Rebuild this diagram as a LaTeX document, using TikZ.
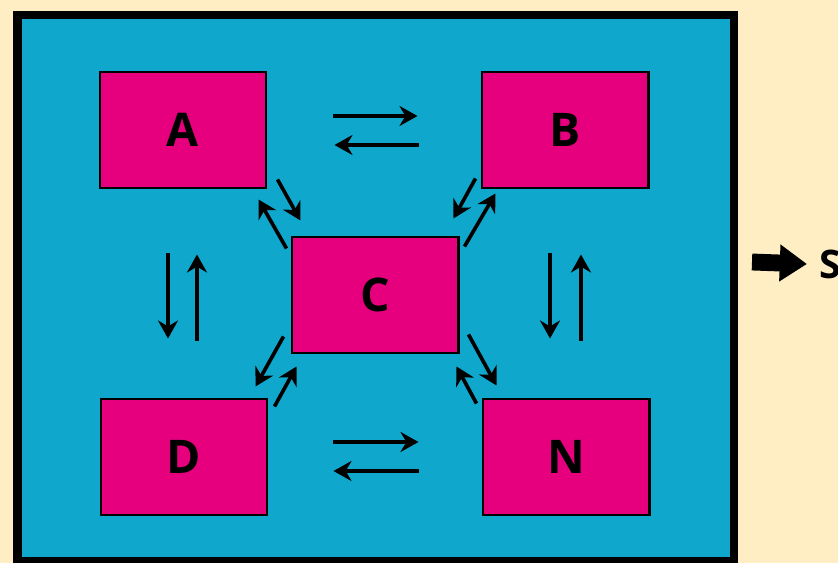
\documentclass[tikz,border=0pt]{standalone}
\usepackage{fontspec}
\setsansfont{Open Sans}
\usetikzlibrary{arrows.meta}

\definecolor{creambg}{RGB}{255,238,196}
\definecolor{poolblue}{RGB}{16,167,204}
\definecolor{boxpink}{RGB}{230,0,126}

\begin{document}
\begin{tikzpicture}[x=0.025cm, y=-0.025cm, >={Stealth[length=0.45cm, width=0.5cm]}, font=\sffamily\bfseries,
  compartment/.style={draw=black, fill=boxpink, line width=2.1pt, minimum width=4.15cm, minimum height=2.9cm,
    inner sep=0pt, font=\sffamily\bfseries\fontsize{33}{33}\selectfont},
  flow/.style={->, line width=2.6pt, black}]

  % ---------- Background and Frame ----------
  \fill[creambg] (0,0) rectangle (838,563);
  \useasboundingbox (0,0) rectangle (838,563);
  \filldraw[fill=poolblue, draw=black, line width=0.2cm] (17.5,15) rectangle (734,561);

  % ---------- Compartments ----------
  \node[compartment] (A) at (183,130) {A};
  \node[compartment] (B) at (565,130) {B};
  \node[compartment] (C) at (375,295) {C};
  \node[compartment] (D) at (184,457) {D};
  \node[compartment] (N) at (566,457) {N};

  % ---------- Horizontal exchanges ----------
  \draw[flow] ([shift={(66,-14)}]A.east) -- ([shift={(-63,-14)}]B.west);
  \draw[flow] ([shift={(-62,15)}]B.west) -- ([shift={(67,15)}]A.east);
  \draw[flow] ([shift={(65,-15)}]D.east) -- ([shift={(-63,-15)}]N.west);
  \draw[flow] ([shift={(-63,14)}]N.west) -- ([shift={(65,14)}]D.east);

  % ---------- Vertical exchanges ----------
  \draw[flow] ([shift={(-15,64)}]A.south) -- ([shift={(-16,-59)}]D.north);
  \draw[flow] ([shift={(13,-57)}]D.north) -- ([shift={(14,65)}]A.south);
  \draw[flow] ([shift={(-15,64)}]B.south) -- ([shift={(-16,-59)}]N.north);
  \draw[flow] ([shift={(15,-57)}]N.north) -- ([shift={(16,65)}]B.south);

  % ---------- Exchanges with C ----------
  \draw[flow] ([shift={(10,-10)}]A.south east) -- ([shift={(10,-15)}]C.north west);
  \draw[flow] ([shift={(-4,13)}]C.north west) -- ([shift={(-9,10)}]A.south east);
  \draw[flow] ([shift={(-5,-11)}]B.south west) -- ([shift={(-6,-17)}]C.north east);
  \draw[flow] ([shift={(5,11)}]C.north east) -- ([shift={(15,4)}]B.south west);
  \draw[flow] ([shift={(-7,-18)}]C.south west) -- ([shift={(-13,-11)}]D.north east);
  \draw[flow] ([shift={(6,9)}]D.north east) -- ([shift={(6,12)}]C.south west);
  \draw[flow] ([shift={(9,-20)}]C.south east) -- ([shift={(15,-12)}]N.north west);
  \draw[flow] ([shift={(-5,6)}]N.north west) -- ([shift={(-3,12)}]C.south east);

  % ---------- Output ----------
  \node[anchor=west, inner sep=0pt, font=\sffamily\bfseries\fontsize{28}{28}\selectfont] (S) at (819,264) {S};
  \coordinate (out) at (752,262);
  \draw[-{Triangle[length=0.68cm, width=0.88cm]}, line width=12pt, black] (out) -- ([xshift=-0.3cm]S.west);

\end{tikzpicture}
\end{document}
